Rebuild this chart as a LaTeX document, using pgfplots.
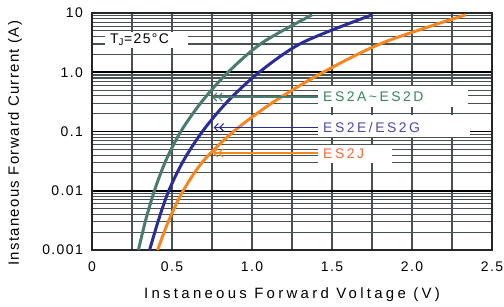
\documentclass[border=0pt]{standalone}
\usepackage{fontspec}
\setmainfont{Liberation Sans}
\newfontfamily\tickf{Liberation Sans}[LetterSpace=10]
\newfontfamily\labf{Liberation Sans}[LetterSpace=18]
\newfontfamily\xlabf{Liberation Sans}[LetterSpace=22]
\newfontfamily\ylabf{Liberation Sans}[LetterSpace=9]
\usepackage{pgfplots}
\pgfplotsset{compat=1.18}
\usetikzlibrary{arrows.meta}
\definecolor{cg}{RGB}{74,122,112}
\definecolor{cb}{RGB}{44,44,150}
\definecolor{co}{RGB}{247,134,30}
\definecolor{tg}{RGB}{55,135,90}
\definecolor{tb}{RGB}{75,75,165}
\definecolor{to}{RGB}{240,105,58}
\definecolor{gridc}{RGB}{72,82,82}
\begin{document}
\begin{tikzpicture}
\useasboundingbox (-92bp,-57bp) rectangle (412bp,250bp);
\begin{axis}[
  at={(0,0)}, anchor=south west,
  scale only axis, width=400bp, height=237bp,
  xmin=0, xmax=2.5, ymode=log, ymin=0.001, ymax=10,
  xtick={0,0.5,1,1.5,2,2.5},
  xticklabels={0,0.5,1.0,1.5,2.0,2.5},
  minor xtick={0.25,0.75,1.25,1.75,2.25},
  ytick={0.001,0.01,0.1,1,10},
  yticklabels={0.001,0.01,0.1,1.0,10},
  minor ytick={0.002,0.003,0.004,0.005,0.006,0.007,0.008,0.009,
               0.02,0.03,0.04,0.05,0.06,0.07,0.08,0.09,
               0.2,0.3,0.4,0.5,0.6,0.7,0.8,0.9,
               2,3,4,5,6,7,8,9},
  major tick length=0pt, minor tick length=0pt,
  grid=both,
  major x grid style={line width=1.7bp, draw=gridc},
  minor x grid style={line width=1.7bp, draw=gridc},
  major y grid style={line width=1.5bp, draw=black},
  minor y grid style={line width=1.1bp, draw=gridc},
  axis line style={line width=2bp, draw=black!85},
  yticklabel style={font=\tickf\fontsize{14}{16}\selectfont, anchor=east, inner sep=0pt, xshift=-9bp},
  xticklabel style={font=\tickf\fontsize{14}{16}\selectfont, anchor=north, inner sep=0pt, yshift=-12bp},
  xlabel={Instaneous Forward Voltage (V)},
  ylabel={Instaneous Forward Current (A)},
  xlabel style={font=\xlabf\fontsize{15}{18}\selectfont, at={([yshift=-45bp]axis description cs:0.5,0)}, anchor=center},
  ylabel style={font=\ylabf\fontsize{15}{18}\selectfont, at={([xshift=-77bp]axis description cs:0,0.45)}, anchor=center},
]
% label boxes (under the curves)
\fill[white] (axis cs:0.081,2.57) rectangle (axis cs:0.6,4.78);
\fill[white] (axis cs:1.41,0.259) rectangle (axis cs:2.35,0.586);
\fill[white] (axis cs:1.41,0.0807) rectangle (axis cs:2.36,0.19);
\fill[white] (axis cs:1.41,0.0294) rectangle (axis cs:1.875,0.0591);

\addplot[cg, line width=3bp, smooth] coordinates {
(0.29,0.001) (0.335,0.00316) (0.39,0.01) (0.46,0.0316) (0.555,0.1)
(0.685,0.316) (0.85,1) (1.065,3.16) (1.375,9.3)};
\addplot[cb, line width=3bp, smooth] coordinates {
(0.36,0.001) (0.415,0.00316) (0.48,0.01) (0.57,0.0316) (0.69,0.1)
(0.845,0.316) (1.045,1) (1.315,3.16) (1.75,9.3)};
\addplot[co, line width=3bp, smooth] coordinates {
(0.41,0.001) (0.48,0.00316) (0.57,0.01) (0.695,0.0316) (0.885,0.1)
(1.135,0.316) (1.445,1) (1.82,3.16) (2.335,9.3)};

\node[anchor=west, inner sep=0pt, font=\tickf\fontsize{14}{16}\selectfont] at (axis cs:0.1125,3.5) {T\textsubscript{J}=25°C};

\draw[cg, line width=1.1bp, -{Straight Barb[length=4bp,width=8bp]Straight Barb[length=4bp,width=8bp]}] (axis cs:1.41,0.382) -- (axis cs:0.75,0.382);
\draw[cb, line width=1.1bp, -{Straight Barb[length=4bp,width=8bp]Straight Barb[length=4bp,width=8bp]}] (axis cs:1.41,0.117) -- (axis cs:0.76,0.117);
\draw[co, line width=1.1bp, -{Straight Barb[length=4bp,width=8bp]Straight Barb[length=4bp,width=8bp]}] (axis cs:1.41,0.0434) -- (axis cs:0.755,0.0434);

\node[anchor=west, inner sep=0pt, text=tg, font=\labf\fontsize{14}{16}\selectfont] at (axis cs:1.444,0.382) {ES2A\textasciitilde ES2D};
\node[anchor=west, inner sep=0pt, text=tb, font=\labf\fontsize{14}{16}\selectfont] at (axis cs:1.444,0.119) {ES2E/ES2G};
\node[anchor=west, inner sep=0pt, text=to, font=\labf\fontsize{14}{16}\selectfont] at (axis cs:1.444,0.0417) {ES2J};
\end{axis}
\end{tikzpicture}
\end{document}
